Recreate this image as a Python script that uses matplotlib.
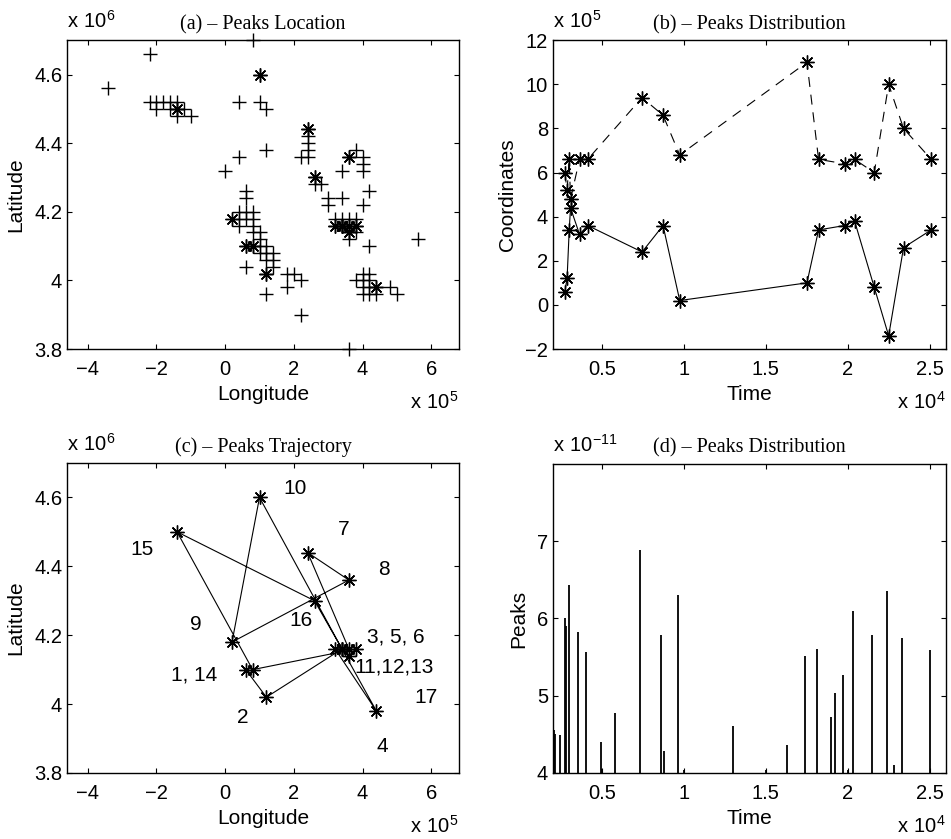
import matplotlib
matplotlib.use("Agg")
import matplotlib.pyplot as plt
from matplotlib.ticker import FuncFormatter

plt.rcParams['font.family'] = ['Liberation Sans', 'DejaVu Sans']
plt.rcParams['mathtext.fontset'] = 'custom'
plt.rcParams['mathtext.rm'] = 'Liberation Sans'

# --- data (lon in 1e5, lat in 1e6, time in 1e4, peaks in 1e-11) ---
# all detected candidate locations (plus markers)
cand_lon = [0.8, -2.2, -3.4,
            -2.2, -2.0, -1.8, -1.6, -1.4, -2.0, -1.6, -1.4, -1.2, -1.4, -1.0,
            1.0, 0.4, 1.0, 1.2, 0.4, 1.2, 0.0,
            2.4, 2.4, 2.4, 2.4, 2.4, 2.2,
            3.6, 3.8, 4.0, 4.0, 4.0, 3.4, 4.2,
            2.6, 2.8, 2.6,
            3.0, 3.0, 3.4, 4.0, 0.6, 0.6,
            0.4, 0.4, 0.6, 0.6, 0.8, 0.8, 0.4, 0.8, 0.8, 1.0, 1.0, 1.0, 1.0,
            1.2, 1.2, 1.2, 1.4, 1.4, 0.6, 0.8, 1.4, 0.6, 1.2, 1.2,
            1.8, 2.0, 2.2, 1.8, 2.2,
            3.2, 3.4, 3.6, 3.8, 3.2, 3.4, 3.6, 3.8, 3.6, 3.8, 3.6,
            4.2, 5.6,
            4.0, 4.2, 3.8, 4.0, 4.2, 4.0, 4.2, 4.0, 4.2, 4.4, 4.4, 4.8, 5.0,
            3.6]
cand_lat = [4.70, 4.66, 4.56,
            4.52, 4.52, 4.52, 4.52, 4.52, 4.50, 4.50, 4.50, 4.50, 4.48, 4.48,
            4.60, 4.52, 4.52, 4.50, 4.36, 4.38, 4.32,
            4.44, 4.42, 4.40, 4.38, 4.36, 4.36,
            4.36, 4.38, 4.36, 4.34, 4.32, 4.32, 4.26,
            4.30, 4.28, 4.28,
            4.24, 4.22, 4.24, 4.22, 4.26, 4.24,
            4.20, 4.18, 4.20, 4.18, 4.20, 4.18, 4.16, 4.16, 4.14, 4.14, 4.12, 4.10, 4.08,
            4.10, 4.08, 4.06, 4.08, 4.06, 4.10, 4.10, 4.04, 4.04, 4.02, 3.96,
            4.02, 4.02, 4.00, 3.98, 3.90,
            4.18, 4.18, 4.18, 4.18, 4.16, 4.16, 4.16, 4.16, 4.14, 4.14, 4.12,
            4.10, 4.12,
            4.02, 4.02, 4.00, 4.00, 4.00, 3.98, 3.98, 3.96, 3.96, 3.96, 3.98, 3.98, 3.96,
            3.80]

# the 17 peaks, in time order
peak_id = list(range(1, 18))
peak_lon = [0.6, 1.2, 3.4, 4.4, 3.2, 3.6, 2.4, 3.6, 0.2, 1.0, 3.4, 3.6, 3.8, 0.8, -1.4, 2.6, 3.4]
peak_lat = [4.10, 4.02, 4.16, 3.98, 4.16, 4.16, 4.44, 4.36, 4.18, 4.60, 4.16, 4.14, 4.16, 4.10, 4.50, 4.30, 4.16]
peak_time = [0.272, 0.286, 0.299, 0.307, 0.362, 0.412, 0.744, 0.872, 0.974,
             1.751, 1.822, 1.981, 2.042, 2.162, 2.250, 2.341, 2.510]

# panel (b) coordinates (1e5)
coord_north = [6.0, 5.2, 6.6, 4.8, 6.6, 6.6, 9.4, 8.6, 6.8, 11.0, 6.6, 6.4, 6.6, 6.0, 10.0, 8.0, 6.6]
coord_east = [0.6, 1.2, 3.4, 4.4, 3.2, 3.6, 2.4, 3.6, 0.2, 1.0, 3.4, 3.6, 3.8, 0.8, -1.4, 2.6, 3.4]

# panel (c) labels
traj_labels = ['10', '7', '15', '8', '9', '16', '3, 5, 6', '11,12,13', '1, 14', '17', '2', '4']
label_x = [2.02, 3.44, -2.41, 4.63, -0.84, 2.21, 4.97, 4.92, -0.89, 5.84, 0.52, 4.57]
label_y = [4.626, 4.507, 4.450, 4.390, 4.230, 4.244, 4.196, 4.108, 4.084, 4.020, 3.960, 3.878]

# panel (d) peak spikes
spike_t = [0.209, 0.215, 0.244, 0.272, 0.280, 0.300, 0.354, 0.404, 0.492, 0.500, 0.581,
           0.734, 0.862, 0.880, 0.962, 1.000, 1.300, 1.500, 1.629, 1.739, 1.812,
           1.898, 1.922, 1.971, 2.000, 2.032, 2.150, 2.242, 2.280, 2.331, 2.500]
spike_v = [4.56, 4.50, 4.49, 6.00, 5.90, 6.43, 5.83, 5.57, 4.40, 4.05, 4.78,
           6.88, 5.78, 4.28, 6.30, 4.04, 4.61, 4.04, 4.36, 5.52, 5.60,
           4.72, 5.04, 5.27, 4.04, 6.10, 5.78, 6.36, 4.10, 5.75, 5.59]

AST = (8, 2, 0)
TCK = 14.5
LBL = 15
TTL = 14.5


def fmt(v, pos):
    s = '%g' % round(v, 6)
    return s.replace('-', '\u2212')


def style(ax, title, xlabel, ylabel):
    ax.tick_params(direction='in', top=True, right=True, length=3.5, width=0.8,
                   labelsize=TCK)
    ax.tick_params(axis='x', pad=8)
    ax.tick_params(axis='y', pad=3.5)
    for sp in ax.spines.values():
        sp.set_linewidth(1.0)
    ax.xaxis.set_major_formatter(FuncFormatter(fmt))
    ax.yaxis.set_major_formatter(FuncFormatter(fmt))
    ax.set_title(title, family='Liberation Serif', fontsize=TTL, pad=8)
    ax.set_xlabel(xlabel, fontsize=LBL, labelpad=4)
    ax.set_ylabel(ylabel, fontsize=LBL, labelpad=6)


def mult(ax, top, bottom):
    ax.annotate('$\\mathregular{x\\ 10^{%s}}$' % top, xy=(0, 1), xycoords='axes fraction',
                xytext=(0, 6), textcoords='offset points', ha='left', va='bottom', fontsize=TCK)
    ax.annotate('$\\mathregular{x\\ 10^{%s}}$' % bottom, xy=(1, 0), xycoords='axes fraction',
                xytext=(0, -30), textcoords='offset points', ha='right', va='top', fontsize=TCK)


fig = plt.figure(figsize=(9.51, 8.39), dpi=100)
axA = fig.add_axes([0.0705, 0.584, 0.412, 0.368])
axB = fig.add_axes([0.5815, 0.584, 0.4132, 0.368])
axC = fig.add_axes([0.0705, 0.0787, 0.412, 0.3695])
axD = fig.add_axes([0.5815, 0.0787, 0.4132, 0.3683])

# (a)
axA.plot(cand_lon, cand_lat, '+', color='k', ms=9.5, mew=1.0, clip_on=False)
axA.plot(peak_lon, peak_lat, ls='none', marker=AST, color='k', ms=10, mew=1.0)
axA.set_xlim(-4.6, 6.8)
axA.set_ylim(3.8, 4.7)
axA.set_xticks([-4, -2, 0, 2, 4, 6])
axA.set_yticks([3.8, 4, 4.2, 4.4, 4.6])
style(axA, '(a) \u2013 Peaks Location', 'Longitude', 'Latitude')
mult(axA, '6', '5')

# (b)
axB.plot(peak_time, coord_north, color='k', lw=0.8, dashes=(9, 7), marker=AST, ms=10, mew=1.0)
axB.plot(peak_time, coord_east, color='k', lw=0.8, marker=AST, ms=10, mew=1.0)
axB.set_xlim(0.2, 2.6)
axB.set_ylim(-2, 12)
axB.set_xticks([0.5, 1, 1.5, 2, 2.5])
axB.set_yticks(range(-2, 13, 2))
style(axB, '(b) \u2013 Peaks Distribution', 'Time', 'Coordinates')
mult(axB, '5', '4')

# (c)
axC.plot(peak_lon, peak_lat, color='k', lw=0.8, marker=AST, ms=10, mew=1.0)
for t, x, y in zip(traj_labels, label_x, label_y):
    axC.text(x, y, t, ha='center', va='center', fontsize=LBL)
axC.set_xlim(-4.6, 6.8)
axC.set_ylim(3.8, 4.7)
axC.set_xticks([-4, -2, 0, 2, 4, 6])
axC.set_yticks([3.8, 4, 4.2, 4.4, 4.6])
style(axC, '(c) \u2013 Peaks Trajectory', 'Longitude', 'Latitude')
mult(axC, '6', '5')

# (d)
axD.vlines(spike_t, 3.9, spike_v, color='k', lw=1.3)
axD.set_xlim(0.2, 2.6)
axD.set_ylim(4, 8)
axD.set_xticks([0.5, 1, 1.5, 2, 2.5])
axD.set_yticks([4, 5, 6, 7])
style(axD, '(d) \u2013 Peaks Distribution', 'Time', 'Peaks')
mult(axD, '\u221211', '4')

fig.savefig('out.png', dpi=100)
